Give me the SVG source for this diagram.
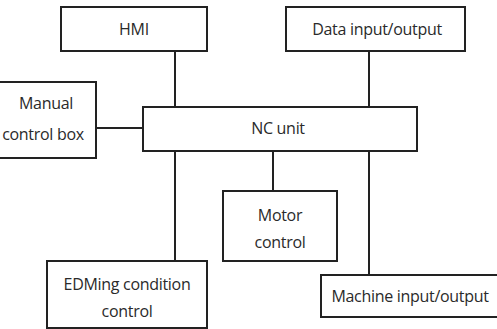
<svg xmlns="http://www.w3.org/2000/svg" width="497" height="329" viewBox="0 0 497 329">
<style>
.box{fill:#fff;stroke:#222;stroke-width:2}
.ln{stroke:#222;stroke-width:2;fill:none}
text{font-family:"Open Sans","Liberation Sans",sans-serif;font-size:16px;fill:#2a2a2a;text-anchor:middle;letter-spacing:-0.3px}
</style>
<rect width="497" height="329" fill="#fff"/>
<g id="connectors">
<line class="ln" x1="175" y1="51" x2="175" y2="107"/>
<line class="ln" x1="369" y1="51" x2="369" y2="107"/>
<line class="ln" x1="96" y1="128" x2="143" y2="128"/>
<line class="ln" x1="175" y1="151" x2="175" y2="261"/>
<line class="ln" x1="273" y1="151" x2="273" y2="191"/>
<line class="ln" x1="369" y1="151" x2="369" y2="275"/>
</g>
<g id="hmi"><rect class="box" x="61" y="7" width="146" height="44"/><text x="134" y="35">HMI</text></g>
<g id="data"><rect class="box" x="286" y="7" width="179" height="44"/><text x="377" y="35">Data input/output</text></g>
<g id="manual"><rect class="box" x="-2" y="82" width="98" height="76"/><text x="46" y="109">Manual</text><text x="43" y="140">control box</text></g>
<g id="nc"><rect class="box" x="143" y="107" width="274" height="44"/><text x="278" y="134">NC unit</text></g>
<g id="motor"><rect class="box" x="223" y="191" width="114" height="70"/><text x="280" y="221">Motor</text><text x="280" y="248">control</text></g>
<g id="edm"><rect class="box" x="47" y="261" width="160" height="67"/><text x="127" y="290">EDMing condition</text><text x="127" y="317">control</text></g>
<g id="machine"><rect class="box" x="321" y="275" width="178" height="42"/><text x="410" y="302">Machine input/output</text></g>
</svg>
